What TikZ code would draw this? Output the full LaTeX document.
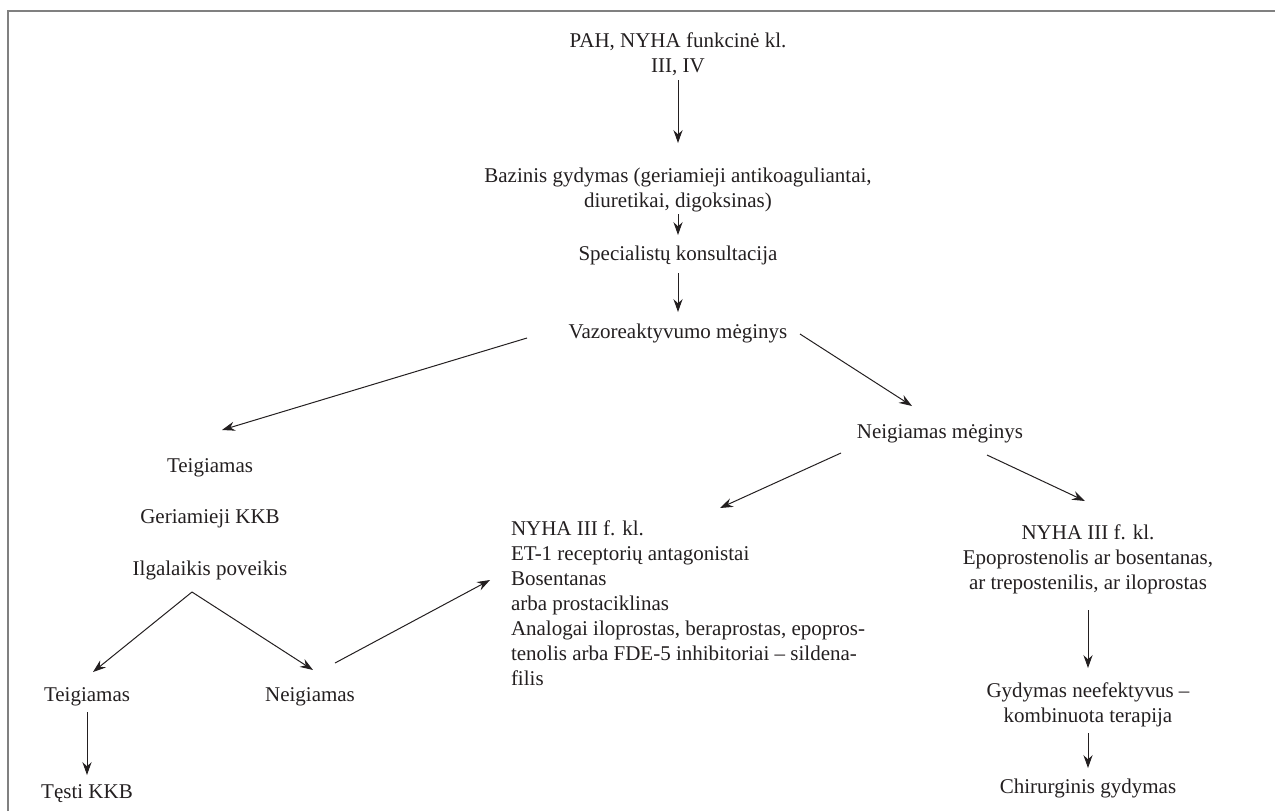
\documentclass[tikz,border=0pt]{standalone}
\usepackage{fontspec}
\setmainfont{Liberation Serif}
\usetikzlibrary{arrows.meta}
\definecolor{ink}{HTML}{231F20}
\definecolor{framegray}{HTML}{808080}
\begin{document}
\begin{tikzpicture}[x=0.5pt,y=-0.5pt,
  txt/.style={inner sep=0pt, outer sep=0pt, text=ink, font=\fontsize{10.5pt}{12.5pt}\selectfont, anchor=base, align=center},
  ltxt/.style={txt, align=left, anchor=base west},
  arr/.style={draw=ink, line width=0.5pt, -{Stealth[length=6.5pt,width=4.6pt,inset=2.2pt]}},
  frameline/.style={draw=framegray, line width=1pt}]
\useasboundingbox (0,0) rectangle (1275,811);
\draw[frameline] (8,811) -- (8,11) -- (1275,11);

% multi-line nodes: base = baseline of the last line
\node[txt] (t1) at (678,72) {PAH, NYHA funkcinė kl.\\III, IV};
\node[txt] (b) at (678,207) {Bazinis gydymas (geriamieji antikoaguliantai,\\diuretikai, digoksinas)};
\node[txt] (sp) at (678,260) {Specialistų konsultacija};
\node[txt] (vz) at (678,338) {Vazoreaktyvumo mėginys};
\node[txt] (ng) at (940,438) {Neigiamas mėginys};
\node[txt] (rb) at (1088,589) {NYHA III f. kl.\\Epoprostenolis ar bosentanas,\\ar trepostenilis, ar iloprostas};
\node[txt] (gy) at (1088,722) {Gydymas neefektyvus –\\kombinuota terapija};
\node[txt] (ch) at (1088,793) {Chirurginis gydymas};
\node[ltxt] (lb) at (511,685) {NYHA III f. kl.\\ET-1 receptorių antagonistai\\Bosentanas\\arba prostaciklinas\\Analogai iloprostas, beraprostas, epopros-\\tenolis arba FDE-5 inhibitoriai – sildena-\\filis};
\node[txt] (te1) at (210,472) {Teigiamas};
\node[txt] (gk) at (210,523) {Geriamieji KKB};
\node[txt] (il) at (210,575) {Ilgalaikis poveikis};
\node[txt] (te2) at (87,701) {Teigiamas};
\node[txt] (ne2) at (310,701) {Neigiamas};
\node[txt] (tk) at (87,798) {Tęsti KKB};

\draw[arr] ([yshift=-4pt]t1.base) -- ([yshift=32pt]b.base);
\draw[arr] ([yshift=-3.5pt]b.base) -- ([yshift=12.5pt]sp.base);
\draw[arr] ([yshift=-6.5pt]sp.base) -- ([yshift=13pt]vz.base);
\draw[arr] ([xshift=-75.5pt]vz.base) -- ([xshift=6pt,yshift=21pt]te1.base);
\draw[arr] ([xshift=61pt,yshift=2pt]vz.base) -- ([xshift=-14pt,yshift=16pt]ng.base);
\draw[arr] ([xshift=-49.5pt,yshift=-7.5pt]ng.base) -- ([xshift=104.5pt,yshift=88.5pt]lb.base west);
\draw[arr] ([xshift=23.5pt,yshift=-8.5pt]ng.base) -- ([xshift=-1.5pt,yshift=44pt]rb.base);
\draw[arr] ([yshift=-10.5pt]rb.base) -- ([yshift=27pt]gy.base);
\draw[arr] ([yshift=-5.5pt]gy.base) -- ([yshift=12.5pt]ch.base);
\coordinate (pk) at ([xshift=-9pt,yshift=-8.5pt]il.base);
\draw[arr] (pk) -- ([xshift=3pt,yshift=14.5pt]te2.base);
\draw[arr] (pk) -- ([xshift=1.5pt,yshift=15.5pt]ne2.base);
\draw[arr] ([yshift=-5.5pt]te2.base) -- ([yshift=11.5pt]tk.base);
\draw[arr] ([xshift=12.5pt,yshift=19pt]ne2.base) -- ([xshift=-10.5pt,yshift=52.5pt]lb.base west);
\end{tikzpicture}
\end{document}
